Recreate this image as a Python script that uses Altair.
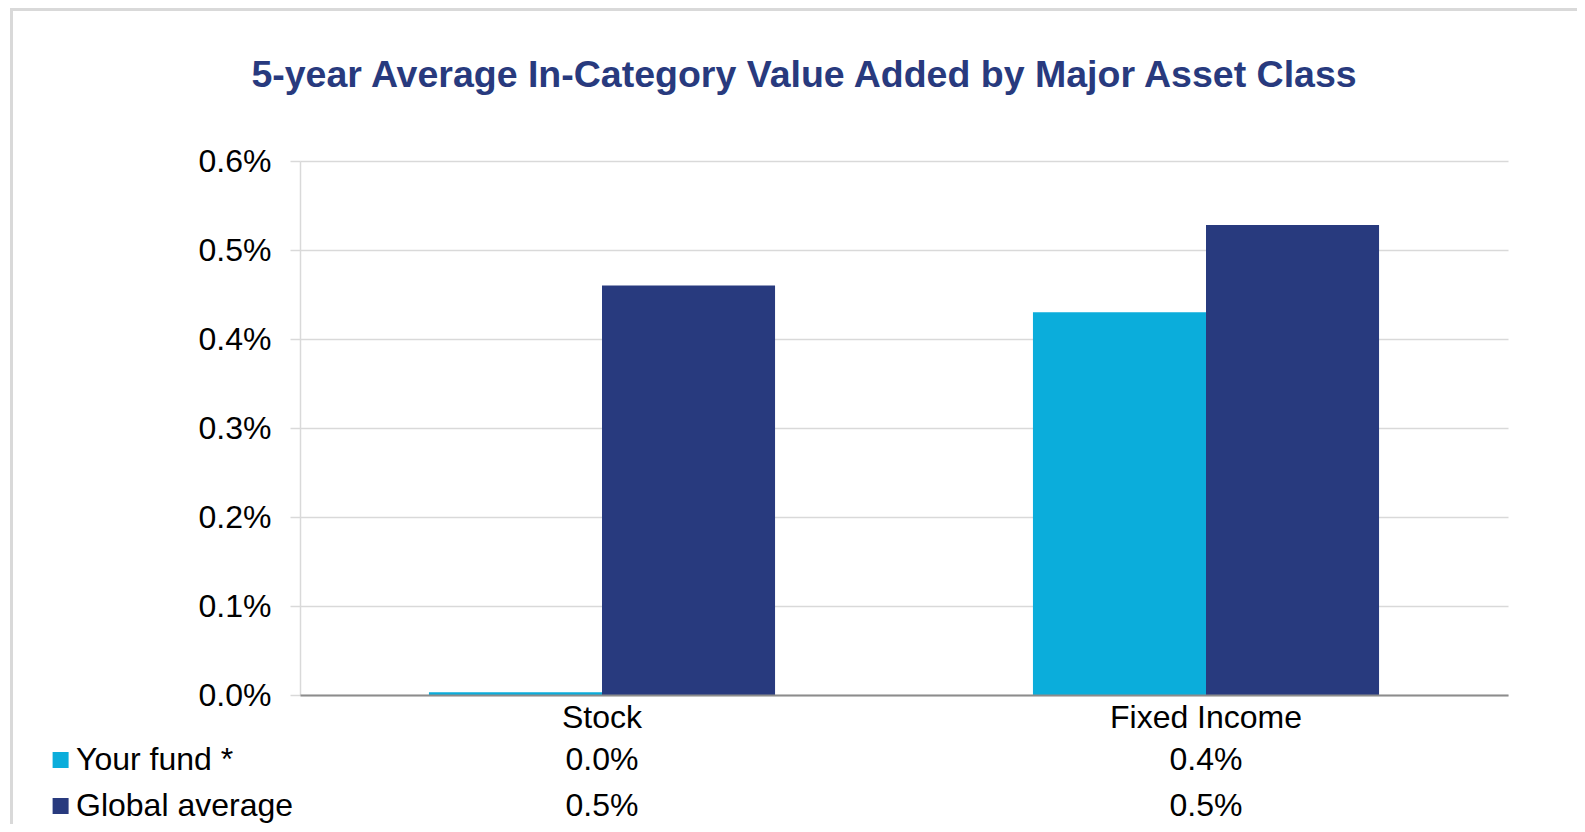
import altair as alt
import pandas as pd

# ---- data ----
categories = ["Stock", "Fixed Income"]
series = ["Your fund *", "Global average"]
your_fund = [0.00003, 0.0043]
global_avg = [0.0046, 0.00528]
y_ticks = [0, 0.001, 0.002, 0.003, 0.004, 0.005, 0.006]
colors = ["#0BADDB", "#283A7E"]
title_text = "5-year Average In-Category Value Added by Major Asset Class"

rows = []
for i, c in enumerate(categories):
    rows.append({"category": c, "series": series[0], "value": your_fund[i]})
    rows.append({"category": c, "series": series[1], "value": global_avg[i]})
df = pd.DataFrame(rows)

FONT = "Liberation Sans"
W, H = 1208, 534
PAD_L, PAD_T = 292, 153

x_enc = alt.X(
    "category:N",
    sort=categories,
    scale=alt.Scale(domain=categories, paddingInner=0.427, paddingOuter=0.2135),
    axis=alt.Axis(
        title=None, labelAngle=0, labelFontSize=32, labelColor="black", labelFont=FONT,
        ticks=False, domainColor="#8C8C8C", domainWidth=2, labelPadding=7, grid=False,
        zindex=1, labelLimit=0,
    ),
)

bars = alt.Chart(df).mark_bar().encode(
    x=x_enc,
    xOffset=alt.XOffset("series:N", sort=series,
                        scale=alt.Scale(domain=series, paddingInner=0, paddingOuter=0)),
    y=alt.Y(
        "value:Q",
        scale=alt.Scale(domain=[0, 0.006], nice=False),
        axis=alt.Axis(
            values=y_ticks, format=".1%", title=None, labelFontSize=32, labelColor="black",
            labelFont=FONT, gridColor="#D9D9D9", gridWidth=1.5, domainColor="#D9D9D9",
            domainWidth=1.5, tickColor="#D9D9D9", tickSize=10, tickWidth=1.5, labelPadding=19,
        ),
    ),
    color=alt.Color("series:N", sort=series,
                    scale=alt.Scale(domain=series, range=colors), legend=None),
)

one = pd.DataFrame({"k": [0]})

border = alt.Chart(one).mark_rect(
    filled=False, stroke="#D9D9D9", strokeWidth=3
).encode(
    x=alt.value(-288.5), x2=alt.value(1400), y=alt.value(-151.5), y2=alt.value(900)
)

title = alt.Chart(pd.DataFrame({"t": [title_text]})).mark_text(
    font=FONT, fontWeight="bold", fontSize=37.5, color="#283A7E",
    align="center", baseline="alphabetic",
).encode(x=alt.value(504), y=alt.value(-74.3), text="t:N")

row_y = [599, 645]
layers = [border, title, bars]
for i, s in enumerate(series):
    sub = df[df["series"] == s]
    layers.append(
        alt.Chart(sub).mark_text(
            font=FONT, fontSize=32, color="black", align="center", baseline="middle"
        ).transform_calculate(
            label="format(datum.value, '.1%')"
        ).encode(x=x_enc, y=alt.value(row_y[i]), text="label:N")
    )
    leg = pd.DataFrame({"series": [s]})
    layers.append(
        alt.Chart(leg).mark_square(size=256, opacity=1, color=colors[i]).encode(
            x=alt.value(-239.4), y=alt.value(row_y[i])
        )
    )
    layers.append(
        alt.Chart(leg).mark_text(
            font=FONT, fontSize=32, color="black", align="left", baseline="middle"
        ).encode(x=alt.value(-224), y=alt.value(row_y[i]), text="series:N")
    )

chart = alt.layer(*layers).properties(
    width=W, height=H,
    autosize=alt.AutoSizeParams(type="none"),
    padding={"left": PAD_L, "top": PAD_T, "right": 1569 - PAD_L - W, "bottom": 816 - PAD_T - H},
    background="white",
).configure_view(stroke=None)

chart.save("out.html", embed_options={"renderer": "svg", "actions": False})
